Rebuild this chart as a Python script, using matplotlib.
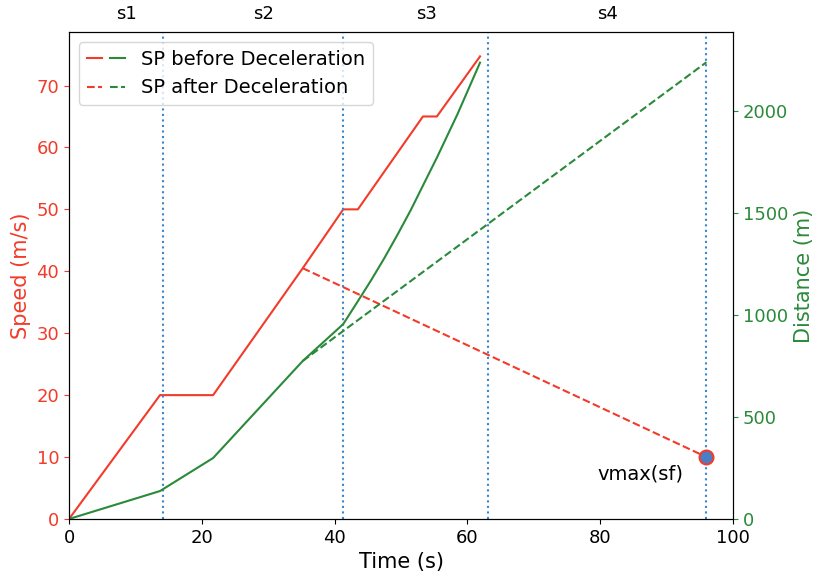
import matplotlib
matplotlib.use('Agg')
import matplotlib.pyplot as plt
from matplotlib.legend_handler import HandlerTuple

# speed profile before deceleration (time s, speed m/s)
t_speed = [0, 13.7, 21.7, 35.2, 41.3, 43.5, 53.3, 55.4, 61.9]
v_speed = [0, 20, 20, 40.5, 50, 50, 65, 65, 74.7]

# distance before deceleration (time s, distance m)
t_dist = [0, 13.7, 21.7, 35.2, 41.3, 43.5, 45.5, 47.5, 49.5, 51.5, 53.3, 55.4, 58.5, 61.9]
d_dist = [0, 137, 299, 775, 956, 1068, 1171, 1280, 1396, 1517, 1635, 1772, 1985, 2238]

# after deceleration
t_dec = [35.2, 96]
v_dec = [40.5, 10]
d_dec = [775, 2240]

# section boundaries
bounds = [0, 14.2, 41.3, 63.1, 96]
sections = ['s1', 's2', 's3', 's4']

red = '#f23b2a'
green = '#2a8a3a'

fig = plt.figure(figsize=(8.15, 5.76), dpi=100)
ax1 = fig.add_axes([0.0847, 0.099, 0.8147, 0.845])
ax2 = ax1.twinx()

l1, = ax1.plot(t_speed, v_speed, color=red, lw=1.5)
l2, = ax1.plot(t_dec, v_dec, color=red, lw=1.5, ls='--')
l3, = ax2.plot(t_dist, d_dist, color=green, lw=1.5)
l4, = ax2.plot(t_dec, d_dec, color=green, lw=1.5, ls='--')

# section dividers
for b in bounds[1:]:
    ax1.axvline(b, color='#3a86c8', ls=':', lw=1.5)

# section names above the plot
for i, name in enumerate(sections):
    mid = (bounds[i] + bounds[i + 1]) / 2
    ax1.text(mid, 1.02, name, transform=ax1.get_xaxis_transform(),
             ha='left', va='bottom', fontsize=13)

ax1.plot([t_dec[-1]], [v_dec[-1]], 'o', color='#4a7fc8', mec=red, ms=10, mew=1.5)
ax1.text(86.0, 7.3, 'vmax(sf)', ha='center', va='center', fontsize=14)

ax1.set_xlim(0, 100)
ax1.set_ylim(0, 78.6)
ax2.set_ylim(0, 2387)

ax1.set_xlabel('Time (s)', fontsize=15)
ax1.set_ylabel('Speed (m/s)', color=red, fontsize=15)
ax2.set_ylabel('Distance (m)', color=green, fontsize=15)
ax1.tick_params(axis='y', colors=red, labelsize=13)
ax1.tick_params(axis='x', labelsize=13)
ax2.tick_params(axis='y', colors=green, labelsize=13)

ax1.legend([(l1, l3), (l2, l4)], ['SP before Deceleration', 'SP after Deceleration'],
           handler_map={tuple: HandlerTuple(ndivide=None)},
           loc='upper left', fontsize=14)

fig.savefig('out.png', dpi=100)
